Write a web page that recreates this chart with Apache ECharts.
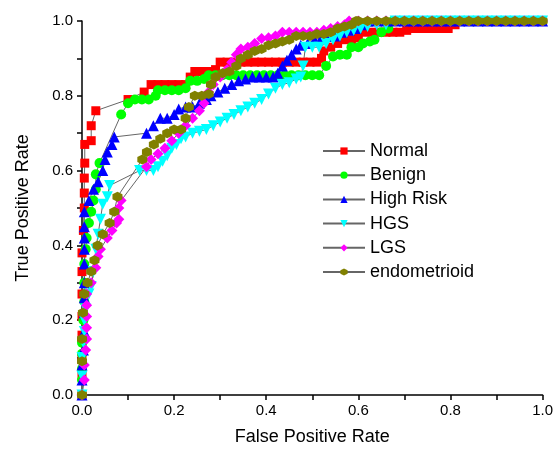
<!DOCTYPE html>
<html>
<head>
<meta charset="utf-8">
<script src="https://cdn.jsdelivr.net/npm/echarts@6/dist/echarts.min.js"></script>
<style>
  html, body { margin: 0; padding: 0; background: #fff; }
  #chart { width: 556px; height: 452px; }
</style>
</head>
<body>
<div id="chart"></div>
<script>
// ROC points [false positive rate, true positive rate]
const normal = [
  [0, 0], [0, 0.05], [0, 0.1], [0, 0.16], [0, 0.21], [0, 0.27], [0, 0.33], [0, 0.38], [0.003, 0.44],
  [0.005, 0.5], [0.005, 0.54], [0.005, 0.58], [0.006, 0.62], [0.006, 0.67], [0.02, 0.68], [0.02, 0.72],
  [0.03, 0.76], [0.1, 0.79], [0.135, 0.81], [0.15, 0.83], [0.165, 0.83], [0.18, 0.83], [0.195, 0.83],
  [0.21, 0.83], [0.225, 0.83], [0.235, 0.85], [0.245, 0.865], [0.26, 0.865], [0.275, 0.865], [0.29, 0.87],
  [0.3, 0.89], [0.315, 0.89], [0.33, 0.89], [0.345, 0.89], [0.36, 0.89], [0.375, 0.89], [0.39, 0.89],
  [0.405, 0.89], [0.42, 0.89], [0.435, 0.89], [0.45, 0.89], [0.465, 0.89], [0.48, 0.89], [0.495, 0.89],
  [0.51, 0.89], [0.52, 0.9], [0.525, 0.92], [0.54, 0.93], [0.555, 0.94], [0.57, 0.95], [0.585, 0.95],
  [0.6, 0.955], [0.615, 0.97], [0.63, 0.97], [0.645, 0.97], [0.66, 0.97], [0.675, 0.97], [0.69, 0.97],
  [0.705, 0.975], [0.72, 0.98], [0.735, 0.98], [0.75, 0.98], [0.765, 0.98], [0.78, 0.98], [0.795, 0.98],
  [0.81, 0.99], [0.82, 1]
]
const benign = [
  [0, 0], [0, 0.04], [0, 0.07], [0, 0.11], [0, 0.14], [0.003, 0.2], [0.005, 0.25], [0.005, 0.3],
  [0.005, 0.35], [0.008, 0.39], [0.01, 0.42], [0.015, 0.46], [0.02, 0.49], [0.025, 0.52], [0.03, 0.55],
  [0.03, 0.59], [0.038, 0.62], [0.085, 0.75], [0.1, 0.78], [0.115, 0.79], [0.13, 0.79], [0.145, 0.79],
  [0.16, 0.8], [0.165, 0.815], [0.18, 0.815], [0.195, 0.815], [0.21, 0.815], [0.225, 0.82], [0.235, 0.84],
  [0.25, 0.84], [0.265, 0.845], [0.275, 0.855], [0.29, 0.855], [0.305, 0.855], [0.32, 0.855], [0.335, 0.855],
  [0.35, 0.855], [0.365, 0.855], [0.38, 0.855], [0.395, 0.855], [0.41, 0.855], [0.425, 0.855], [0.44, 0.855],
  [0.455, 0.855], [0.47, 0.855], [0.485, 0.855], [0.5, 0.855], [0.515, 0.855], [0.53, 0.88], [0.545, 0.905],
  [0.56, 0.91], [0.575, 0.91], [0.585, 0.93], [0.6, 0.93], [0.61, 0.94], [0.625, 0.945], [0.635, 0.95],
  [0.65, 0.97], [0.665, 0.98], [0.675, 1]
]
const highRisk = [
  [0, 0], [0, 0.04], [0, 0.08], [0.003, 0.12], [0.005, 0.17], [0.005, 0.22], [0.005, 0.26], [0.005, 0.3],
  [0.005, 0.35], [0.005, 0.39], [0.005, 0.42], [0.005, 0.45], [0.005, 0.49], [0.015, 0.52], [0.025, 0.55],
  [0.035, 0.57], [0.045, 0.6], [0.05, 0.63], [0.055, 0.65], [0.065, 0.67], [0.07, 0.69], [0.14, 0.7],
  [0.155, 0.72], [0.17, 0.74], [0.185, 0.74], [0.2, 0.75], [0.21, 0.765], [0.225, 0.77], [0.24, 0.77],
  [0.255, 0.78], [0.27, 0.79], [0.28, 0.8], [0.295, 0.81], [0.31, 0.82], [0.325, 0.83], [0.34, 0.84],
  [0.355, 0.845], [0.37, 0.85], [0.385, 0.85], [0.4, 0.85], [0.415, 0.85], [0.425, 0.86], [0.435, 0.88],
  [0.445, 0.895], [0.455, 0.91], [0.465, 0.925], [0.475, 0.935], [0.49, 0.94], [0.505, 0.95], [0.52, 0.955],
  [0.535, 0.96], [0.55, 0.96], [0.565, 0.97], [0.58, 0.975], [0.595, 0.98], [0.61, 0.99], [0.62, 1]
]
const hgs = [
  [0, 0], [0, 0.05], [0, 0.1], [0.003, 0.14], [0.005, 0.17], [0.005, 0.2], [0.008, 0.23], [0.015, 0.27],
  [0.02, 0.29], [0.025, 0.33], [0.03, 0.39], [0.035, 0.43], [0.04, 0.47], [0.045, 0.51], [0.055, 0.53],
  [0.06, 0.56], [0.125, 0.6], [0.14, 0.6], [0.155, 0.6], [0.165, 0.61], [0.175, 0.625], [0.185, 0.64],
  [0.195, 0.66], [0.205, 0.67], [0.215, 0.685], [0.225, 0.69], [0.24, 0.7], [0.255, 0.705], [0.27, 0.71],
  [0.285, 0.72], [0.3, 0.73], [0.315, 0.74], [0.33, 0.75], [0.345, 0.76], [0.36, 0.77], [0.375, 0.78],
  [0.39, 0.79], [0.405, 0.805], [0.42, 0.82], [0.435, 0.83], [0.45, 0.835], [0.465, 0.845], [0.475, 0.85],
  [0.48, 0.88], [0.485, 0.93], [0.5, 0.93], [0.515, 0.93], [0.53, 0.94], [0.545, 0.95], [0.56, 0.96],
  [0.575, 0.97], [0.59, 0.975], [0.605, 0.98], [0.62, 0.985], [0.64, 0.99], [0.66, 0.99], [0.68, 1]
]
const lgs = [
  [0, 0], [0.005, 0.04], [0.005, 0.08], [0.008, 0.12], [0.01, 0.15], [0.01, 0.18], [0.01, 0.21],
  [0.01, 0.24], [0.01, 0.27], [0.02, 0.3], [0.03, 0.34], [0.035, 0.37], [0.04, 0.39], [0.055, 0.42],
  [0.065, 0.44], [0.075, 0.46], [0.08, 0.47], [0.08, 0.5], [0.085, 0.52], [0.14, 0.61], [0.15, 0.63],
  [0.165, 0.645], [0.18, 0.66], [0.195, 0.68], [0.21, 0.7], [0.225, 0.72], [0.24, 0.74], [0.255, 0.76],
  [0.265, 0.78], [0.275, 0.81], [0.285, 0.83], [0.3, 0.85], [0.315, 0.87], [0.325, 0.89], [0.335, 0.91],
  [0.345, 0.925], [0.36, 0.93], [0.375, 0.94], [0.39, 0.953], [0.405, 0.955], [0.42, 0.96], [0.435, 0.97],
  [0.45, 0.97], [0.465, 0.97], [0.48, 0.97], [0.495, 0.97], [0.51, 0.97], [0.525, 0.975], [0.54, 0.98],
  [0.555, 0.985], [0.57, 0.99], [0.58, 1]
]
const endometrioid = [
  [0, 0], [0, 0.09], [0, 0.15], [0.002, 0.22], [0.005, 0.27], [0.012, 0.3], [0.02, 0.33], [0.027, 0.36],
  [0.034, 0.4], [0.045, 0.43], [0.06, 0.46], [0.07, 0.49], [0.077, 0.53], [0.131, 0.63], [0.141, 0.65],
  [0.156, 0.67], [0.17, 0.685], [0.185, 0.7], [0.2, 0.71], [0.215, 0.71], [0.225, 0.74], [0.232, 0.77],
  [0.245, 0.8], [0.26, 0.8], [0.275, 0.805], [0.28, 0.83], [0.29, 0.85], [0.305, 0.86], [0.32, 0.865],
  [0.335, 0.88], [0.345, 0.9], [0.36, 0.91], [0.375, 0.92], [0.39, 0.925], [0.405, 0.935], [0.42, 0.94],
  [0.435, 0.945], [0.45, 0.95], [0.465, 0.96], [0.48, 0.96], [0.495, 0.96], [0.51, 0.965], [0.525, 0.965],
  [0.54, 0.97], [0.555, 0.98], [0.57, 0.985], [0.585, 0.99], [0.595, 1]
]
// x positions of the points along the top edge (TPR = 1)
const topRunX = [0.6, 0.62, 0.64, 0.66, 0.68, 0.7, 0.72, 0.74, 0.76, 0.78, 0.8, 0.82, 0.84, 0.86,
  0.88, 0.9, 0.92, 0.94, 0.96, 0.98, 1]

const hexagon = 'path://M0,-10L8.66,-5L8.66,5L0,10L-8.66,5L-8.66,-5Z'

function withTop (pts) {
  const last = pts[pts.length - 1][0]
  return pts.concat(topRunX.filter(x => x > last).map(x => [x, 1]))
}

const seriesDefs = [
  { name: 'Normal', data: normal, color: '#ff0000', symbol: 'rect', size: 9 },
  { name: 'Benign', data: benign, color: '#00ff00', symbol: 'circle', size: 10 },
  { name: 'High Risk', data: highRisk, color: '#0000ff', symbol: 'triangle', size: 11 },
  { name: 'HGS', data: hgs, color: '#00ffff', symbol: 'triangle', size: 11, rotate: 180 },
  { name: 'LGS', data: lgs, color: '#ff00ff', symbol: 'diamond', size: 11 },
  { name: 'endometrioid', data: endometrioid, color: '#808000', symbol: hexagon, size: 10 }
]

const chart = echarts.init(document.getElementById('chart'))

const axisCommon = {
  type: 'value',
  min: 0,
  max: 1,
  interval: 0.2,
  nameLocation: 'middle',
  nameTextStyle: { fontSize: 18, color: '#000', fontFamily: 'Liberation Sans' },
  axisLine: { show: true, lineStyle: { color: '#000', width: 1.5 } },
  axisTick: { show: true, length: 5, lineStyle: { color: '#000', width: 1.5 } },
  minorTick: { show: true, splitNumber: 2, length: 5, lineStyle: { color: '#000', width: 1.5 } },
  splitLine: { show: false },
  axisLabel: {
    fontSize: 15,
    color: '#000',
    fontFamily: 'Liberation Sans',
    formatter: v => v.toFixed(1)
  }
}

chart.setOption({
  animation: false,
  backgroundColor: '#fff',
  grid: { left: 82, right: 9, top: 21, bottom: 57 },
  xAxis: Object.assign({}, axisCommon, {
    name: 'False Positive Rate',
    nameGap: 33,
    axisLabel: Object.assign({}, axisCommon.axisLabel, { margin: 8 })
  }),
  yAxis: Object.assign({}, axisCommon, {
    name: 'True Positive Rate',
    nameGap: 50,
    axisLabel: Object.assign({}, axisCommon.axisLabel, { margin: 9 })
  }),
  legend: {
    orient: 'vertical',
    left: 322,
    top: 142,
    padding: 0,
    itemWidth: 42,
    itemHeight: 9,
    itemGap: 6.2,
    textStyle: { fontSize: 18, lineHeight: 18, color: '#000', fontFamily: 'Liberation Sans' },
    data: seriesDefs.map(s => s.name)
  },
  series: seriesDefs.map(s => ({
    name: s.name,
    type: 'line',
    data: withTop(s.data),
    symbol: s.symbol,
    symbolSize: s.size,
    symbolRotate: s.rotate || 0,
    showAllSymbol: true,
    clip: false,
    lineStyle: { color: '#666', width: 1 },
    itemStyle: { color: s.color, borderWidth: 0 }
  }))
})
</script>
</body>
</html>
